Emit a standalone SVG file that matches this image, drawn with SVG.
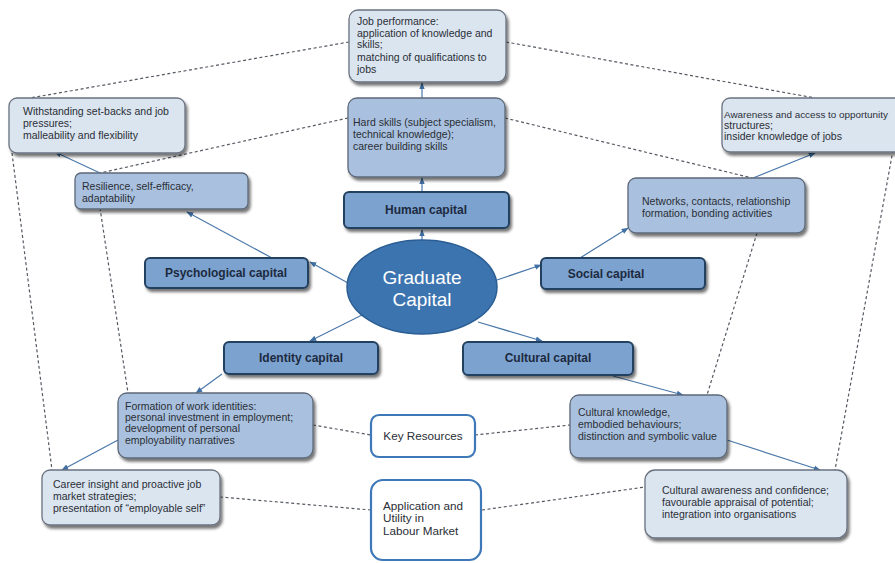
<svg xmlns="http://www.w3.org/2000/svg" width="895" height="563" viewBox="0 0 895 563">
<defs>
<filter id="sh" x="-10%" y="-10%" width="125%" height="135%">
<feGaussianBlur in="SourceAlpha" stdDeviation="1.5"/>
<feOffset dx="2" dy="3" result="b"/>
<feComponentTransfer><feFuncA type="linear" slope="0.55"/></feComponentTransfer>
<feMerge><feMergeNode/><feMergeNode in="SourceGraphic"/></feMerge>
</filter>
<marker id="ah" viewBox="0 0 10 10" refX="9" refY="5" markerWidth="7" markerHeight="7" orient="auto" markerUnits="userSpaceOnUse">
<path d="M0,1 L10,5 L0,9 z" fill="#3f6fa3"/>
</marker>
</defs>
<style>
.outer{fill:#dbe5f0;stroke:#6a7280;stroke-width:1.3}
.mid{fill:#a9c1de;stroke:#5d6878;stroke-width:1.3}
.cap{fill:#7ca2cf;stroke:#24405f;stroke-width:2}
.key{fill:#ffffff;stroke:#3e78b8;stroke-width:2.2}
.t{font-family:"Liberation Sans",Arial,sans-serif;font-size:10.5px;fill:#2a2e36}
.ct{font-family:"Liberation Sans",Arial,sans-serif;font-size:12px;font-weight:bold;fill:#1c2a40;text-anchor:middle}
.kt{font-family:"Liberation Sans",Arial,sans-serif;font-size:11.7px;fill:#2a2e36}
.dash{stroke:#555a62;stroke-width:1.2;stroke-dasharray:3,2.5;fill:none}
.arr{stroke:#4a78aa;stroke-width:1.2;fill:none;marker-end:url(#ah)}
</style>
<rect width="895" height="563" fill="#ffffff"/>

<g id="connectors">
<line class="dash" x1="349" y1="42" x2="30" y2="98"/>
<line class="dash" x1="506" y1="42" x2="815" y2="98"/>
<line class="dash" x1="348" y1="118" x2="100" y2="173"/>
<line class="dash" x1="505" y1="118" x2="752" y2="178"/>
<line class="dash" x1="12" y1="153" x2="52" y2="470"/>
<line class="dash" x1="100" y1="208" x2="128" y2="393"/>
<line class="dash" x1="757" y1="233" x2="707" y2="395"/>
<line class="dash" x1="893" y1="150" x2="835" y2="470"/>
<line class="dash" x1="313" y1="425" x2="371" y2="435"/>
<line class="dash" x1="475" y1="435" x2="570" y2="425"/>
<line class="dash" x1="220" y1="497" x2="371" y2="510"/>
<line class="dash" x1="482" y1="510" x2="645" y2="487"/>

<line class="arr" x1="422" y1="241" x2="422" y2="230"/>
<line class="arr" x1="422" y1="191" x2="422" y2="178"/>
<line class="arr" x1="422" y1="98" x2="422" y2="83"/>
<line class="arr" x1="348" y1="283" x2="310" y2="262"/>
<line class="arr" x1="272" y1="258" x2="187" y2="212"/>
<line class="arr" x1="100" y1="173" x2="55" y2="152"/>
<line class="arr" x1="497" y1="280" x2="541" y2="265"/>
<line class="arr" x1="580" y1="258" x2="628" y2="228"/>
<line class="arr" x1="753" y1="178" x2="815" y2="153"/>
<line class="arr" x1="362" y1="315" x2="310" y2="341"/>
<line class="arr" x1="222" y1="374" x2="196" y2="393"/>
<line class="arr" x1="118" y1="440" x2="62" y2="470"/>
<line class="arr" x1="478" y1="322" x2="542" y2="341"/>
<line class="arr" x1="613" y1="376" x2="683" y2="395"/>
<line class="arr" x1="727" y1="440" x2="820" y2="470"/>
</g>

<g id="job-performance">
<rect class="outer" x="349" y="10" width="157" height="72" rx="9" filter="url(#sh)"/>
<text class="t" x="357" y="25">Job performance:</text>
<text class="t" x="357" y="37">application of knowledge and</text>
<text class="t" x="357" y="48">skills;</text>
<text class="t" x="357" y="61">matching of qualifications to</text>
<text class="t" x="357" y="73">jobs</text>
</g>

<g id="withstanding">
<rect class="outer" x="9" y="98" width="176" height="55" rx="8" filter="url(#sh)"/>
<text class="t" x="23" y="115">Withstanding set-backs and job</text>
<text class="t" x="23" y="127">pressures;</text>
<text class="t" x="23" y="139">malleability and flexibility</text>
</g>

<g id="awareness">
<rect class="outer" x="722" y="98" width="190" height="54" rx="8" filter="url(#sh)"/>
<text class="t" x="724" y="118" style="font-size:9.9px">Awareness and access to opportunity</text>
<text class="t" x="724" y="129">structures;</text>
<text class="t" x="724" y="140">insider knowledge of jobs</text>
</g>

<g id="hard-skills">
<rect class="mid" x="348" y="98" width="157" height="79" rx="9" filter="url(#sh)"/>
<text class="t" x="353" y="126">Hard skills (subject specialism,</text>
<text class="t" x="353" y="138">technical knowledge);</text>
<text class="t" x="353" y="150">career building skills</text>
</g>

<g id="resilience">
<rect class="mid" x="75" y="173" width="173" height="36" rx="6" filter="url(#sh)"/>
<text class="t" x="82" y="190">Resilience, self-efficacy,</text>
<text class="t" x="82" y="202">adaptability</text>
</g>

<g id="networks">
<rect class="mid" x="628" y="178" width="177" height="55" rx="8" filter="url(#sh)"/>
<text class="t" x="642" y="205">Networks, contacts, relationship</text>
<text class="t" x="642" y="217">formation, bonding activities</text>
</g>

<g id="human-capital">
<rect class="cap" x="344" y="192" width="165" height="36" rx="5" filter="url(#sh)"/>
<text class="ct" x="426" y="214">Human capital</text>
</g>

<g id="psychological-capital">
<rect class="cap" x="145" y="258" width="163" height="30" rx="5" filter="url(#sh)"/>
<text class="ct" x="226" y="277">Psychological capital</text>
</g>

<g id="social-capital">
<rect class="cap" x="541" y="258" width="164" height="31" rx="5" filter="url(#sh)"/>
<text class="ct" x="606" y="278">Social capital</text>
</g>

<g id="graduate-capital">
<ellipse cx="422" cy="287" rx="75" ry="47" fill="#3c74af" stroke="#2b5e94" stroke-width="1.5"/>
<text x="422" y="284" font-family="'Liberation Sans',Arial,sans-serif" font-size="19" fill="#ffffff" text-anchor="middle">Graduate</text>
<text x="422" y="306" font-family="'Liberation Sans',Arial,sans-serif" font-size="19" fill="#ffffff" text-anchor="middle">Capital</text>
</g>

<g id="identity-capital">
<rect class="cap" x="224" y="342" width="154" height="32" rx="5" filter="url(#sh)"/>
<text class="ct" x="301" y="362">Identity capital</text>
</g>

<g id="cultural-capital">
<rect class="cap" x="463" y="342" width="170" height="33" rx="5" filter="url(#sh)"/>
<text class="ct" x="548" y="362">Cultural capital</text>
</g>

<g id="formation">
<rect class="mid" x="118" y="393" width="195" height="65" rx="9" filter="url(#sh)"/>
<text class="t" x="125" y="410">Formation of work identities:</text>
<text class="t" x="125" y="421">personal investment in employment;</text>
<text class="t" x="125" y="432">development of personal</text>
<text class="t" x="125" y="444">employability narratives</text>
</g>

<g id="cultural-knowledge">
<rect class="mid" x="570" y="395" width="157" height="63" rx="9" filter="url(#sh)"/>
<text class="t" x="578" y="416">Cultural knowledge,</text>
<text class="t" x="578" y="428">embodied behaviours;</text>
<text class="t" x="578" y="440">distinction and symbolic value</text>
</g>

<g id="key-resources">
<rect class="key" x="371" y="415" width="104" height="42" rx="8"/>
<text class="kt" x="423" y="440" text-anchor="middle">Key Resources</text>
</g>

<g id="career-insight">
<rect class="outer" x="42" y="470" width="178" height="55" rx="8" filter="url(#sh)"/>
<text class="t" x="53" y="488">Career insight and proactive job</text>
<text class="t" x="53" y="500">market strategies;</text>
<text class="t" x="53" y="512">presentation of “employable self”</text>
</g>

<g id="application">
<rect class="key" x="371" y="480" width="110" height="80" rx="12"/>
<text class="kt" x="383" y="510">Application and</text>
<text class="kt" x="383" y="522">Utility in</text>
<text class="kt" x="383" y="535">Labour Market</text>
</g>

<g id="cultural-awareness">
<rect class="outer" x="645" y="470" width="202" height="68" rx="10" filter="url(#sh)"/>
<text class="t" x="662" y="494">Cultural awareness and confidence;</text>
<text class="t" x="662" y="506">favourable appraisal of potential;</text>
<text class="t" x="662" y="518">integration into organisations</text>
</g>
</svg>
